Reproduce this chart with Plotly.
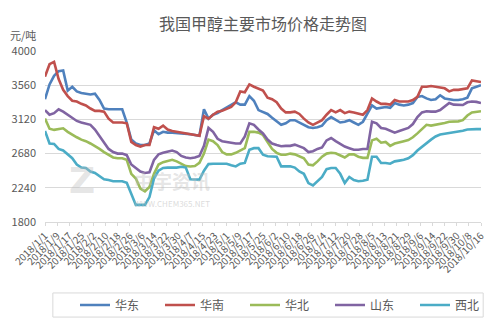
import pandas as pd
import plotly.graph_objects as go

dates = pd.date_range("2018-01-01", periods=97, freq="3D")

huadong = [3380, 3570, 3680, 3740, 3750, 3490, 3540, 3480, 3460, 3450,
           3440, 3450, 3370, 3260, 3250, 3250, 3250, 3250, 3080, 2860,
           2810, 2790, 2790, 2810, 2980, 2930, 2960, 2950, 2950, 2945,
           2945, 2940, 2930, 2920, 2910, 3250, 3130, 3180, 3200, 3240,
           3270, 3300, 3340, 3310, 3310, 3420, 3360, 3240, 3210, 3190,
           3140, 3100, 3050, 3070, 3110, 3110, 3080, 3050, 3020, 3010,
           3020, 3040, 3110, 3150, 3120, 3080, 3090, 3110, 3080, 3050,
           3090, 3190, 3300, 3260, 3270, 3280, 3270, 3330, 3310, 3300,
           3310, 3330, 3410, 3420, 3390, 3370, 3380, 3430, 3390, 3380,
           3370, 3370, 3380, 3400, 3520, 3540, 3560]

huanan = [3670, 3830, 3860, 3640, 3500, 3420, 3360, 3350, 3320, 3300,
          3260, 3230, 3230, 3220, 3130, 3080, 3080, 3080, 3070, 2830,
          2790, 2770, 2790, 2790, 3020, 3000, 3040, 2990, 2970, 2960,
          2950, 2940, 2930, 2920, 2910, 3160, 3130, 3180, 3220, 3230,
          3250, 3280, 3340, 3480, 3470, 3570, 3540, 3520, 3490, 3400,
          3380, 3340, 3260, 3210, 3210, 3220, 3190, 3130, 3080, 3050,
          3080, 3110, 3180, 3240, 3210, 3240, 3200, 3220, 3210, 3190,
          3180, 3240, 3390, 3350, 3320, 3320, 3310, 3370, 3350, 3350,
          3350, 3370, 3410, 3540, 3540, 3550, 3540, 3530, 3520, 3480,
          3500, 3500, 3510, 3520, 3620, 3610, 3600]

huabei = [3130, 3000, 2985, 3000, 3005, 2960, 2920, 2890, 2860, 2840,
          2810, 2780, 2740, 2700, 2660, 2630, 2620, 2620, 2600, 2420,
          2360, 2230, 2195, 2250, 2420, 2540, 2570, 2590, 2600, 2580,
          2550, 2520, 2515, 2520, 2560, 2680, 2860, 2840, 2790, 2700,
          2670, 2670, 2690, 2720, 2750, 2960, 2960, 2950, 2920, 2830,
          2740, 2690, 2665, 2665, 2680, 2670, 2650, 2620, 2540, 2530,
          2580, 2640, 2680, 2690, 2685, 2660, 2630, 2670, 2670, 2640,
          2625, 2625, 2850, 2870, 2820, 2830, 2780, 2810, 2830, 2840,
          2855, 2890, 2940, 2990, 3050, 3040, 3050, 3060, 3075, 3090,
          3095, 3095, 3110, 3170, 3210, 3220, 3225]

shandong = [3240, 3180, 3200, 3250, 3220, 3180, 3150, 3100, 3080, 3060,
            3050, 2990, 2910, 2830, 2740, 2700, 2680, 2680, 2660, 2540,
            2490, 2450, 2430, 2440, 2600, 2670, 2690, 2710, 2720, 2700,
            2650, 2630, 2620, 2630, 2650, 2780, 3010, 2960, 2870, 2840,
            2830, 2820, 2810, 2810, 2900, 3070, 3050, 2990, 2940, 2860,
            2810, 2790, 2775, 2780, 2780, 2795, 2770, 2750, 2700, 2710,
            2740, 2760, 2850, 2880, 2840, 2800, 2770, 2750, 2730, 2730,
            2740, 2740, 3090, 3070, 3010, 3000, 2970, 2950, 2970, 2990,
            3010, 3060, 3150, 3210, 3225, 3220, 3220, 3240, 3290, 3330,
            3310, 3305, 3305, 3340, 3350, 3345, 3330]

xibei = [2970, 2810, 2805, 2740, 2720, 2670, 2620, 2540, 2500, 2495,
         2450, 2430, 2390, 2350, 2340, 2325, 2325, 2325, 2305, 2170,
         2020, 2020, 2020, 2120, 2360, 2460, 2495, 2500, 2500, 2500,
         2510, 2500, 2350, 2345, 2345, 2460, 2545, 2550, 2550, 2550,
         2550, 2530, 2515, 2550, 2560, 2730, 2750, 2750, 2665, 2645,
         2645, 2640, 2516, 2516, 2516, 2500, 2450, 2420, 2300, 2270,
         2320, 2380, 2480, 2494, 2494, 2420, 2302, 2380, 2340, 2325,
         2330, 2345, 2640, 2640, 2560, 2560, 2550, 2580, 2590, 2600,
         2620, 2660, 2720, 2770, 2815, 2860, 2900, 2925, 2935, 2945,
         2950, 2960, 2975, 2990, 2995, 2995, 2995]

series_names = ["华东", "华南", "华北", "山东", "西北"]
series_values = [huadong, huanan, huabei, shandong, xibei]
colors = ["#4F81BD", "#C0504D", "#9BBB59", "#8064A2", "#4BACC6"]
y_ticks = [1800, 2240, 2680, 3120, 3560, 4000]

FONT = "Noto Sans CJK SC"
GRAY = "#595959"

fig = go.Figure()
for name, vals, c in zip(series_names, series_values, colors):
    fig.add_trace(go.Scatter(x=dates, y=vals, name=name, mode="lines",
                             line=dict(color=c, width=2.6)))

fig.update_layout(
    width=500, height=325,
    margin=dict(l=45, r=19, t=51, b=103, autoexpand=False),
    paper_bgcolor="white", plot_bgcolor="white",
    font=dict(family=FONT, color=GRAY, size=11),
    title=dict(text="我国甲醇主要市场价格走势图", x=0.5, xanchor="center",
               xref="paper", y=1 - 24 / 325, yref="container", yanchor="middle",
               font=dict(size=16, color=GRAY, family=FONT)),
    showlegend=True,
    legend=dict(orientation="h", xref="container", x=0.575, xanchor="center",
                yref="container", y=20 / 325, yanchor="middle",
                bgcolor="rgba(0,0,0,0)", borderwidth=0, font=dict(size=12, color=GRAY),
                entrywidth=40, entrywidthmode="pixels", itemwidth=30),
)

fig.update_yaxes(range=[1800, 4000], tickvals=y_ticks, showgrid=True, automargin=False,
                 gridcolor="#d9d9d9", gridwidth=1, zeroline=False, showline=False,
                 ticks="", ticklabelstandoff=8, tickfont=dict(size=11, color=GRAY))
fig.update_xaxes(type="date", range=["2018-01-01", "2018-10-16"], automargin=False,
                 tick0="2018-01-01", dtick=8 * 86400000, tickformat="%Y/%-m/%-d",
                 tickangle=-45, showgrid=False, showline=True, linecolor="#d9d9d9",
                 ticks="outside", ticklen=3, tickcolor="#d9d9d9",
                 tickfont=dict(size=10, color=GRAY))

# y-axis unit label
fig.add_annotation(text="元/吨", xref="paper", yref="paper", x=-0.085, y=1.094,
                   xanchor="left", yanchor="middle", showarrow=False,
                   font=dict(size=11, color=GRAY))

# legend frame
fig.add_shape(type="rect", xref="paper", yref="paper", x0=0.018, x1=1.005,
              y0=-0.556, y1=-0.415, line=dict(color="#d9d9d9", width=1),
              fillcolor="rgba(0,0,0,0)")

# watermark
fig.add_annotation(text="<b>Z</b>", xref="paper", yref="paper", x=0.05, y=0.11,
                   showarrow=False, font=dict(size=36, color="rgba(190,190,190,0.4)", family="DejaVu Sans"))
fig.add_annotation(text="<b>中宇资讯</b>", xref="paper", yref="paper", x=0.2, y=0.15,
                   showarrow=False, font=dict(size=19, color="rgba(190,190,190,0.4)"))
fig.add_annotation(text="WWW.CHEM365.NET", xref="paper", yref="paper", x=0.2, y=0.064,
                   showarrow=False, font=dict(size=8, color="rgba(190,190,190,0.55)"))

fig.write_html("out.html")
